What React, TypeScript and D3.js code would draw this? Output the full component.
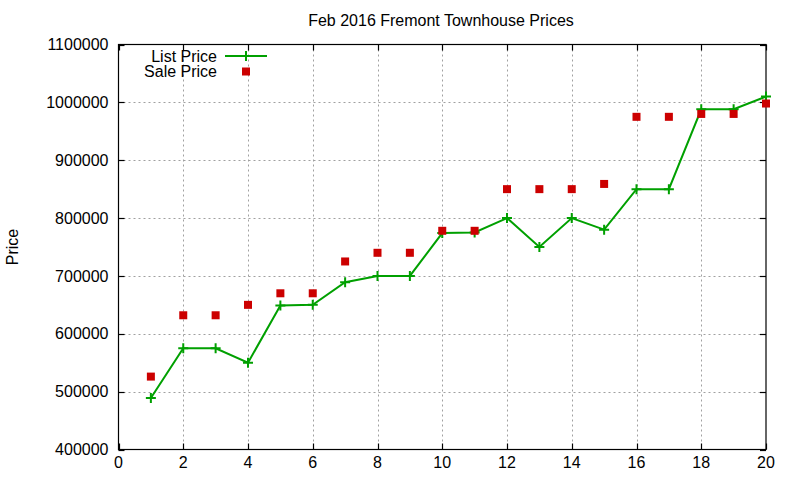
import React, { useEffect, useRef } from 'react';
import * as d3 from 'd3';

const listings = [1, 2, 3, 4, 5, 6, 7, 8, 9, 10, 11, 12, 13, 14, 15, 16, 17, 18, 19, 20];
const listPrice = [489000, 575000, 575000, 550000, 649000, 650000, 689000, 700000, 700000, 774000,
  775000, 800000, 750000, 800000, 780000, 850000, 850000, 988000, 988000, 1010000];
const salePrice = [526000, 632000, 632000, 650000, 670000, 670000, 725000, 740000, 740000, 778000,
  778000, 850000, 850000, 850000, 859000, 975000, 975000, 980000, 980000, 998000];
const xTicks = [0, 2, 4, 6, 8, 10, 12, 14, 16, 18, 20];
const yTicks = [400000, 500000, 600000, 700000, 800000, 900000, 1000000, 1100000];

const App: React.FC = () => {
  const svgRef = useRef<SVGSVGElement>(null);

  useEffect(() => {
    if (!svgRef.current) return;
    const svg = d3.select(svgRef.current);
    svg.selectAll('*').remove();

    const left = 118.5, right = 766, top = 44.5, bottom = 449.5;
    const font = '"Liberation Sans", Arial, sans-serif';
    const fs = 16;

    const x = d3.scaleLinear().domain([0, 20]).range([left, right]);
    const y = d3.scaleLinear().domain([400000, 1100000]).range([bottom, top]);

    // grid
    const grid = svg.append('g').attr('stroke', '#a0a0a0').attr('stroke-width', 1).attr('stroke-dasharray', '2,3');
    xTicks.slice(1, -1).forEach(t => {
      grid.append('line').attr('x1', Math.round(x(t)) + 0.5).attr('x2', Math.round(x(t)) + 0.5).attr('y1', top).attr('y2', bottom);
    });
    yTicks.slice(1, -1).forEach(t => {
      grid.append('line').attr('x1', left).attr('x2', right).attr('y1', Math.round(y(t)) + 0.5).attr('y2', Math.round(y(t)) + 0.5);
    });

    // border + inward ticks (gnuplot style, mirrored)
    const frame = svg.append('g').attr('stroke', '#000').attr('stroke-width', 1.2).attr('fill', 'none');
    frame.append('rect').attr('x', left).attr('y', top).attr('width', right - left).attr('height', bottom - top);
    const tl = 6;
    xTicks.forEach(t => {
      const px = Math.round(x(t)) + 0.5;
      frame.append('line').attr('x1', px).attr('x2', px).attr('y1', bottom).attr('y2', bottom - tl);
      frame.append('line').attr('x1', px).attr('x2', px).attr('y1', top).attr('y2', top + tl);
    });
    yTicks.forEach(t => {
      const py = Math.round(y(t)) + 0.5;
      frame.append('line').attr('x1', left).attr('x2', left + tl).attr('y1', py).attr('y2', py);
      frame.append('line').attr('x1', right).attr('x2', right - tl).attr('y1', py).attr('y2', py);
    });

    // tick labels
    svg.append('g').selectAll('text').data(xTicks).enter().append('text')
      .attr('x', d => x(d)).attr('y', bottom + 13).attr('dy', '0.35em')
      .attr('text-anchor', 'middle').attr('font-family', font).attr('font-size', fs).attr('fill', '#000')
      .text(d => String(d));
    svg.append('g').selectAll('text').data(yTicks).enter().append('text')
      .attr('x', left - 10).attr('y', d => y(d)).attr('dy', '0.35em')
      .attr('text-anchor', 'end').attr('font-family', font).attr('font-size', fs).attr('fill', '#000')
      .text(d => String(d));

    // title and axis label
    svg.append('text').attr('x', 441).attr('y', 20).attr('dy', '0.35em').attr('text-anchor', 'middle')
      .attr('font-family', font).attr('font-size', fs).text('Feb 2016 Fremont Townhouse Prices');
    svg.append('text').attr('transform', 'translate(12,247) rotate(-90)').attr('dy', '0.35em')
      .attr('text-anchor', 'middle').attr('font-family', font).attr('font-size', fs).text('Price');

    const green = '#00a000';
    const red = '#cc0000';

    // list price line
    const line = d3.line<number>().x((_, i) => x(listings[i])).y(d => y(d));
    svg.append('path').datum(listPrice).attr('d', line).attr('fill', 'none')
      .attr('stroke', green).attr('stroke-width', 2);
    const plus = (g: d3.Selection<SVGGElement, unknown, null, undefined>, cx: number, cy: number) => {
      g.append('path').attr('d', `M${cx - 5},${cy}H${cx + 5}M${cx},${cy - 5}V${cy + 5}`)
        .attr('stroke', green).attr('stroke-width', 2).attr('fill', 'none');
    };
    const marks = svg.append('g');
    listPrice.forEach((v, i) => plus(marks, x(listings[i]), y(v)));

    // sale price squares
    svg.append('g').selectAll('rect').data(salePrice).enter().append('rect')
      .attr('x', (_, i) => x(listings[i]) - 4).attr('y', d => y(d) - 4)
      .attr('width', 8).attr('height', 8).attr('fill', red);

    // legend
    const lg = svg.append('g');
    lg.append('text').attr('x', 217).attr('y', 56).attr('dy', '0.35em').attr('text-anchor', 'end')
      .attr('font-family', font).attr('font-size', fs).text('List Price');
    lg.append('line').attr('x1', 225).attr('x2', 267).attr('y1', 56).attr('y2', 56)
      .attr('stroke', green).attr('stroke-width', 2);
    plus(lg, 246, 56);
    lg.append('text').attr('x', 217).attr('y', 71.5).attr('dy', '0.35em').attr('text-anchor', 'end')
      .attr('font-family', font).attr('font-size', fs).text('Sale Price');
    lg.append('rect').attr('x', 242).attr('y', 67.5).attr('width', 8).attr('height', 8).attr('fill', red);
  }, []);

  return (
    <svg ref={svgRef} width={800} height={480}
      style={{ position: 'absolute', left: 0, top: 0, background: '#fff' }} />
  );
};

export default App;
